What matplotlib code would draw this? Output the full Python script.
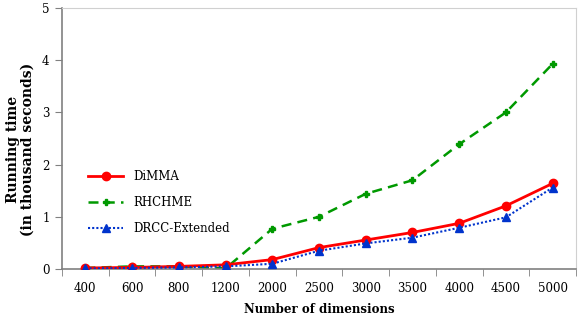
import numpy as np
import matplotlib
matplotlib.use("Agg")
import matplotlib.pyplot as plt

# ---- data ----
dims = ["400", "600", "800", "1200", "2000", "2500", "3000", "3500", "4000", "4500", "5000"]
dimma = [0.02, 0.03, 0.05, 0.08, 0.18, 0.41, 0.555, 0.70, 0.875, 1.21, 1.64]
rhchme = [0.02, 0.05, 0.05, 0.01, 0.77, 1.00, 1.44, 1.70, 2.39, 3.00, 3.93]
drcc = [0.01, 0.02, 0.03, 0.05, 0.10, 0.35, 0.49, 0.60, 0.79, 0.99, 1.56]

plt.rcParams["font.family"] = ["DejaVu Serif"]

fig = plt.figure(figsize=(5.82, 3.19), dpi=100)
ax = fig.add_axes([62 / 582, 50 / 319, 514 / 582, 261 / 319])

x = np.arange(len(dims))
ax.plot(x, dimma, color="#ff0000", lw=2, marker="o", ms=6, label="DiMMA", zorder=3)
ax.plot(x, rhchme, color="#009900", lw=1.8, ls=(0, (4, 2.5)), marker="P", ms=5,
        label="RHCHME", zorder=2)
ax.plot(x, drcc, color="#0033cc", lw=1.5, ls=(0, (1, 1)), marker="^", ms=6,
        label="DRCC-Extended", zorder=4)

ax.set_xlim(-0.5, len(dims) - 0.5)
ax.set_ylim(0, 5)
ax.set_yticks(range(6))
ax.set_xticks(x)
ax.set_xticklabels(dims)
ax.set_xticks(np.arange(-0.5, len(dims)), minor=True)
ax.tick_params(axis="x", which="major", length=0, pad=9, labelsize=8.5)
ax.tick_params(axis="x", which="minor", length=5, color="#808080")
ax.tick_params(axis="y", length=5, color="#808080", labelsize=8.5, pad=4)

for side in ["top", "right"]:
    ax.spines[side].set_color("#d0d0d0")
for side in ["left", "bottom"]:
    ax.spines[side].set_color("#808080")
    ax.spines[side].set_linewidth(1.2)

ax.set_xlabel("Number of dimensions", fontsize=8.5, fontweight="bold", labelpad=6)
ax.set_ylabel("Running time\n(in thousand seconds)", fontsize=10, fontweight="bold",
              linespacing=1.1)
ax.yaxis.set_label_coords(-0.053, 0.46)

ax.legend(loc="upper left", bbox_to_anchor=(0.03, 0.42), frameon=False, fontsize=8.5,
          handlelength=3, labelspacing=1.1)

fig.savefig("out.png", dpi=100, facecolor="white")
